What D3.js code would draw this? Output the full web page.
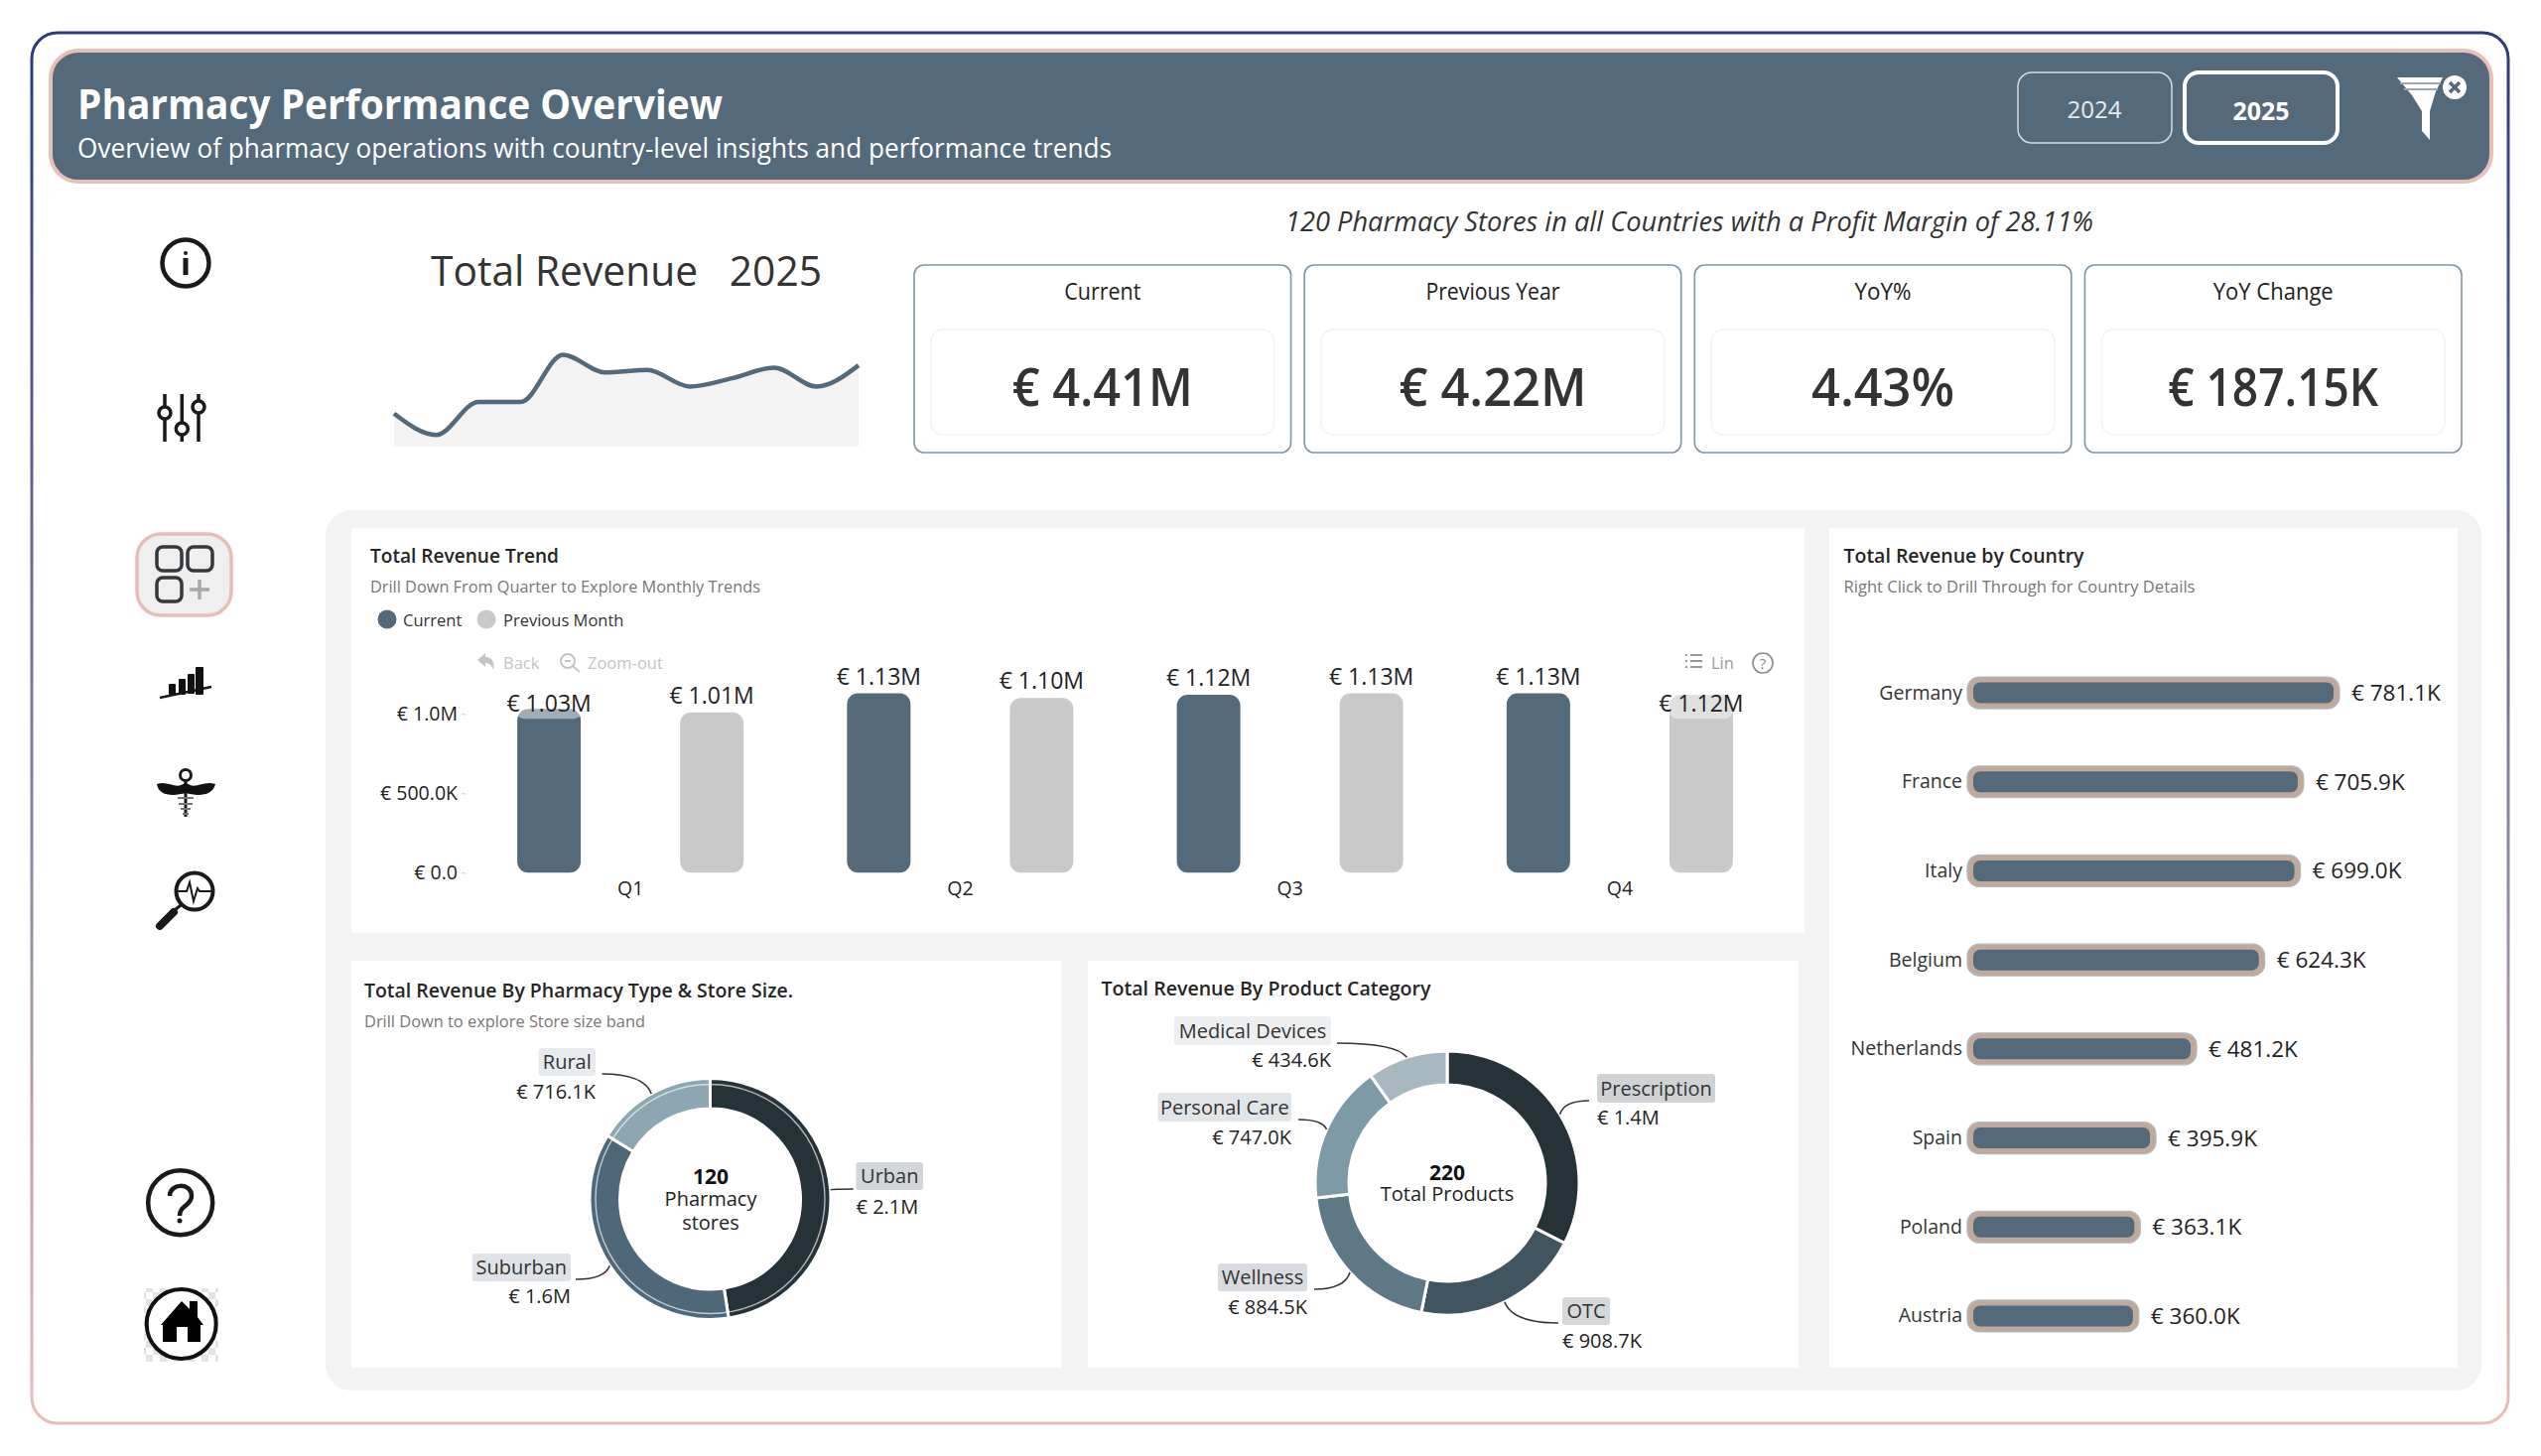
<!DOCTYPE html>
<html><head><meta charset="utf-8">
<script src="https://cdn.jsdelivr.net/npm/d3@7/dist/d3.min.js"></script>
<style>
html,body{margin:0;padding:0;background:#fff}
svg{display:block}
text{font-family:"Open Sans",sans-serif;white-space:pre}
</style></head><body>
<svg id="c" width="2560" height="1467" viewBox="0 0 2560 1467"></svg>
<script>
// ---------- data ----------
const years = ["2024","2025"];
const months = ["Jan","Feb","Mar","Apr","May","Jun","Jul","Aug","Sep","Oct","Nov","Dec"];
const monthlyRevenue = [346,328,356,356,396,381,383,369,376,385,369,387];
const kpiTitles = ["Current","Previous Year","YoY%","YoY Change"];
const kpiValues = ["€ 4.41M","€ 4.22M","4.43%","€ 187.15K"];
const quarters = ["Q1","Q2","Q3","Q4"];
const barSeries = ["Current","Previous Month"];
const currentRevenue = [1030000,1130000,1120000,1130000];
const previousRevenue = [1010000,1100000,1130000,1120000];
const barTicks = [0,500000,1000000];
const barTickLabels = ["€ 0.0","€ 500.0K","€ 1.0M"];
const countries = ["Germany","France","Italy","Belgium","Netherlands","Spain","Poland","Austria"];
const countryRevenue = [781.1,705.9,699.0,624.3,481.2,395.9,363.1,360.0];
const pharmacyTypes = ["Urban","Suburban","Rural"];
const pharmacyRevenue = [2100000,1600000,716100];
const productCategories = ["Prescription","OTC","Wellness","Personal Care","Medical Devices"];
const productRevenue = [1435000,908700,884500,747000,434600];

// ---------- helpers ----------
const DARK="#546A7B", GREY="#C9C9C9", INK="#333333";
const svg=d3.select("#c");
const defs=svg.append("defs");
const grad=defs.append("linearGradient").attr("id","edge").attr("gradientUnits","userSpaceOnUse")
  .attr("x1",0).attr("y1",32).attr("x2",0).attr("y2",1434);
grad.append("stop").attr("offset","0").attr("stop-color","#2B3A7C");
grad.append("stop").attr("offset","0.5").attr("stop-color","#7C7B9C");
grad.append("stop").attr("offset","1").attr("stop-color","#EBBDB8");
const chk=defs.append("pattern").attr("id","chk").attr("width",14).attr("height",14).attr("patternUnits","userSpaceOnUse");
chk.append("rect").attr("width",14).attr("height",14).attr("fill","#fff");
chk.append("rect").attr("width",7).attr("height",7).attr("fill","#e3e3e3");
chk.append("rect").attr("x",7).attr("y",7).attr("width",7).attr("height",7).attr("fill","#e3e3e3");

function T(p,x,y,s,size,o={}){
  const t=p.append("text").attr("x",x).attr("y",y).text(s)
    .attr("font-size",size).attr("fill",o.fill||INK)
    .attr("font-weight",o.w||400).attr("text-anchor",o.a||"start")
    .attr("font-style",o.i?"italic":"normal");
  if(o.len) t.attr("textLength",o.len).attr("lengthAdjust","spacingAndGlyphs");
  return t;
}
function R(p,x,y,w,h,r,fill,stroke,sw){
  return p.append("rect").attr("x",x).attr("y",y).attr("width",w).attr("height",h).attr("rx",r)
    .attr("fill",fill||"none").attr("stroke",stroke||"none").attr("stroke-width",sw||0);
}

// ---------- frame & header ----------
R(svg,32,33,2495,1401,26,"#fff","url(#edge)",3);
R(svg,51,51,2459,132,28,DARK,"#E9BFBA",4);
T(svg,78,120,"Pharmacy Performance Overview",42,{fill:"#fff",w:700,len:650});
T(svg,78,159,"Overview of pharmacy operations with country-level insights and performance trends",28,{fill:"#fff",len:1042});
const btn=svg.append("g");
btn.selectAll("rect").data(years).join("rect")
  .attr("x",(d,i)=>i?2201:2033).attr("y",73).attr("width",(d,i)=>i?154:155).attr("height",71).attr("rx",14)
  .attr("fill","none").attr("stroke",(d,i)=>i?"#fff":"#D5DBE0").attr("stroke-width",(d,i)=>i?4:1.5);
btn.selectAll("text").data(years).join("text")
  .attr("x",(d,i)=>i?2278:2110).attr("y",(d,i)=>i?121:119).attr("text-anchor","middle")
  .attr("font-size",(d,i)=>i?25:24).attr("fill",(d,i)=>i?"#fff":"#E6EAED").attr("font-weight",(d,i)=>i?700:400).text(d=>d);
svg.append("path").attr("d","M2415 78 H2461 L2454 92 L2448 112 L2448 141 L2440 132 L2440 112 L2430 96 Z").attr("fill","#fff");
svg.append("path").attr("d","M2418 84 H2459 M2422 90 H2456").attr("stroke","#9aa8b3").attr("stroke-width",2);
svg.append("circle").attr("cx",2473).attr("cy",88).attr("r",12).attr("fill","#fff");
svg.append("path").attr("d","M2468 83 L2478 93 M2478 83 L2468 93").attr("stroke",DARK).attr("stroke-width",3.5);

// ---------- sidebar icons ----------
R(svg,138,538,95,82,24,"#EFEFEF","#E8BDB8",3.5);
const ic=svg.append("g").attr("fill","none").attr("stroke","#1a1a1a");
ic.append("circle").attr("cx",187).attr("cy",265).attr("r",23.5).attr("stroke-width",4.5);
ic.append("path").attr("d","M187 260 V277").attr("stroke-width",5);
ic.append("circle").attr("cx",187).attr("cy",255).attr("r",2).attr("fill","#1a1a1a").attr("stroke","none");
ic.append("path").attr("d","M166 397V445 M183.3 397V445 M200 397V445").attr("stroke-width",3.5);
[[166,416],[183.3,432],[200,410]].forEach(k=>ic.append("circle").attr("cx",k[0]).attr("cy",k[1]).attr("r",6).attr("fill","#fff").attr("stroke-width",3.5));
[[158,551],[189,551],[158,582]].forEach(k=>R(ic,k[0],k[1],25,24,6,"none","#33393d",3.5));
ic.append("path").attr("d","M201 584V604 M191 594H211").attr("stroke","#a8a8a8").attr("stroke-width",3.5);
ic.append("path").attr("d","M161 703 L213 692").attr("stroke-width",2.5);
[[170,689,7,11],[180,684,7,16],[189,679,7,20],[197,672,8,28]].forEach(k=>R(svg,k[0],k[1],k[2],k[3],1,"#111"));
ic.append("circle").attr("cx",187).attr("cy",781).attr("r",5.5).attr("stroke-width",3);
svg.append("path").attr("d","M187 788 C178 797 170 786 158 790 C160 803 176 802 187 799 C198 802 214 803 217 790 C204 786 196 797 187 788Z").attr("fill","#111");
ic.append("path").attr("d","M187 787V823").attr("stroke-width",3);
ic.append("path").attr("d","M179 804H195 M180 810H194 M182 815H192 M184 820H190").attr("stroke","#777").attr("stroke-width",2);
ic.append("circle").attr("cx",196).attr("cy",898).attr("r",18.5).attr("stroke-width",4);
ic.append("path").attr("d","M178 898H188 L191 889 L195 908 L199 895 L201 898H214").attr("stroke-width",2);
ic.append("path").attr("d","M182 912 L176 917").attr("stroke-width",3);
ic.append("path").attr("d","M175 919 L161 933").attr("stroke-width",8).attr("stroke-linecap","round");
ic.append("circle").attr("cx",181.7).attr("cy",1211.7).attr("r",32.5).attr("stroke-width",4.5);
ic.append("path").attr("d","M171 1205 C171 1192 193 1191 193 1205 C193 1215 181 1214 181 1225").attr("stroke-width",4.5);
ic.append("circle").attr("cx",181).attr("cy",1230).attr("r",2.5).attr("fill","#1a1a1a").attr("stroke","none");
R(svg,145,1298,75,74,0,"url(#chk)");
svg.append("circle").attr("cx",182.7).attr("cy",1334).attr("r",35).attr("fill","#fff").attr("stroke","#111").attr("stroke-width",4);
svg.append("path").attr("d","M162 1335 L183 1311 L191 1319 V1311 L199 1311 V1327 L205 1335 H202 V1352 H189 V1337 H178 V1352 H164 V1335Z").attr("fill","#000");

// ---------- revenue sparkline ----------
T(svg,434,288,"Total Revenue   2025",42,{fill:"#333",len:394});
const sx=d3.scalePoint().domain(months).range([397,865]);
const sy=d3.scaleLinear().domain([318,400]).range([450,352.7]);
svg.append("path").datum(monthlyRevenue).attr("fill","#F3F3F3")
  .attr("d",d3.area().x((d,i)=>sx(months[i])).y0(sy(318)).y1(d=>sy(d)).curve(d3.curveMonotoneX));
svg.append("path").datum(monthlyRevenue).attr("fill","none").attr("stroke",DARK).attr("stroke-width",4.5)
  .attr("d",d3.line().x((d,i)=>sx(months[i])).y(d=>sy(d)).curve(d3.curveMonotoneX));

// ---------- KPI cards ----------
T(svg,1702,233,"120 Pharmacy Stores in all Countries with a Profit Margin of 28.11%",27.2,{i:true,a:"middle",fill:"#333",len:814});
const kpiTextWidths=[182,189,144,212], kpiTitleWidths=[77,135,57,121];
const kx=d3.scaleBand().domain(kpiTitles).range([921,2480]).paddingInner(0.0345);
const kg=svg.selectAll("g.kpi").data(kpiTitles).join("g").attr("class","kpi").attr("transform",d=>`translate(${kx(d)},267)`);
kg.append("rect").attr("width",kx.bandwidth()).attr("height",189).attr("rx",10).attr("fill","#fff").attr("stroke","#7E95A6").attr("stroke-width",1.6);
kg.append("rect").attr("x",17).attr("y",65).attr("width",kx.bandwidth()-34).attr("height",106).attr("rx",12).attr("fill","#fff").attr("stroke","#F3F3F3").attr("stroke-width",1.5);
kg.append("text").attr("x",kx.bandwidth()/2).attr("y",35).attr("text-anchor","middle").attr("font-size",23).attr("fill","#222")
  .attr("textLength",(d,i)=>kpiTitleWidths[i]).attr("lengthAdjust","spacingAndGlyphs").text(d=>d);
kg.append("text").attr("x",kx.bandwidth()/2).attr("y",142).attr("text-anchor","middle").attr("font-size",52).attr("font-weight",600).attr("fill",INK)
  .attr("textLength",(d,i)=>kpiTextWidths[i]).attr("lengthAdjust","spacingAndGlyphs").text((d,i)=>kpiValues[i]);

// ---------- panels ----------
R(svg,328,514,2172,887,26,"#F3F3F3");
R(svg,354,532,1464,408,0,"#fff");
R(svg,1843,532,633,846,0,"#fff");
R(svg,354,968,715.5,410,0,"#fff");
R(svg,1096,968,716,410,0,"#fff");
const TITLE=20, SUB=16.5;
T(svg,373,567,"Total Revenue Trend",TITLE,{w:600,fill:"#252525",len:190});
T(svg,373,597,"Drill Down From Quarter to Explore Monthly Trends",SUB,{fill:"#777",len:393});
T(svg,1857.5,567,"Total Revenue by Country",TITLE,{w:600,fill:"#252525",len:242});
T(svg,1857.5,597,"Right Click to Drill Through for Country Details",SUB,{fill:"#777",len:354});
T(svg,367,1005,"Total Revenue By Pharmacy Type & Store Size.",TITLE,{w:600,fill:"#252525",len:432});
T(svg,367,1035,"Drill Down to explore Store size band",SUB,{fill:"#777",len:283});
T(svg,1109.5,1003,"Total Revenue By Product Category",TITLE,{w:600,fill:"#252525",len:332});

// ---------- clustered columns ----------
const lg=svg.selectAll("g.lg").data(barSeries).join("g").attr("class","lg");
lg.append("circle").attr("cx",(d,i)=>i?490:390).attr("cy",624).attr("r",9.5).attr("fill",(d,i)=>i?GREY:DARK);
lg.append("text").attr("x",(d,i)=>i?507:406).attr("y",631).attr("font-size",16.5).attr("fill",INK).text(d=>d);
const tb="#C4C4C4";
T(svg,507,674,"Back",16.5,{fill:tb}); T(svg,592,674,"Zoom-out",16.5,{fill:tb}); T(svg,1724,674,"Lin",16.5,{fill:"#9a9a9a"});
svg.append("path").attr("d","M481 665 L489 658 V662 C496 662 499 668 497 675 C495 670 493 668 489 668 V672Z").attr("fill",tb);
svg.append("circle").attr("cx",572).attr("cy",666).attr("r",7).attr("fill","none").attr("stroke",tb).attr("stroke-width",2);
svg.append("path").attr("d","M577 671 L584 677 M569 666H575").attr("stroke",tb).attr("stroke-width",2);
svg.append("path").attr("d","M1698 660H1700 M1703 660H1715 M1698 666H1700 M1703 666H1715 M1698 672H1700 M1703 672H1715").attr("stroke","#999").attr("stroke-width",2);
svg.append("circle").attr("cx",1776).attr("cy",668).attr("r",10).attr("fill","none").attr("stroke","#8a8a8a").attr("stroke-width",1.6);
T(svg,1776,674,"?",15,{a:"middle",fill:"#8a8a8a"});

const y0=879.3, px=160/1e6;
const by=d3.scaleLinear().domain([0,1200000]).range([y0,y0-1200000*px]);
const bx=d3.scaleBand().domain(quarters).range([469,1798]);
const yAxis=svg.append("g").attr("transform","translate(469,0)")
  .call(d3.axisLeft(by).tickValues(barTicks).tickFormat((d,i)=>barTickLabels[i]).tickSize(4).tickPadding(4));
yAxis.select(".domain").remove();
yAxis.selectAll("line").attr("stroke","#ccc");
yAxis.selectAll("text").attr("font-size",19.5).attr("fill","#222").attr("font-family",'"Open Sans",sans-serif');
const xAxis=svg.append("g").attr("transform",`translate(0,${y0})`).call(d3.axisBottom(bx).tickSize(0).tickPadding(9));
xAxis.select(".domain").remove();
xAxis.selectAll("text").attr("font-size",19.5).attr("fill","#222").attr("font-family",'"Open Sans",sans-serif');

const bw=d3.scaleBand().domain(barSeries).range([-114,114]).paddingInner(0.61);
const labelsInBar=new Set(["Q1|Current","Q4|Previous Month"]);
const barRows=quarters.flatMap((q,i)=>[{q,s:barSeries[0],v:currentRevenue[i]},{q,s:barSeries[1],v:previousRevenue[i]}]);
const bars=svg.append("g");
bars.selectAll("rect").data(barRows).join("rect")
  .attr("x",d=>bx(d.q)+bx.bandwidth()/2+bw(d.s)).attr("y",d=>by(d.v))
  .attr("width",bw.bandwidth()).attr("height",d=>y0-by(d.v)).attr("rx",11)
  .attr("fill",d=>d.s===barSeries[0]?DARK:GREY);
barRows.forEach(d=>{
  const cx=bx(d.q)+bx.bandwidth()/2+bw(d.s)+bw.bandwidth()/2;
  const inside=labelsInBar.has(d.q+"|"+d.s);
  if(inside) R(bars,cx-bw.bandwidth()/2,by(d.v),bw.bandwidth(),by(1000000)+5-by(d.v),8,"rgba(255,255,255,0.45)");
  T(bars,cx,inside?by(1000000)-2:by(d.v)-9,"€ "+(d.v/1e6).toFixed(2)+"M",23,{a:"middle",fill:"#222"});
});

// ---------- horizontal bars ----------
const hx=d3.scaleLinear().domain([0,781.1]).range([1982,2357]);
const hy=d3.scaleBand().domain(countries).range([653.2,1370.8]);
const hg=svg.selectAll("g.hb").data(countries).join("g").attr("class","hb")
  .attr("transform",d=>`translate(0,${hy(d)+hy.bandwidth()/2})`);
const BH=32;
hg.append("rect").attr("x",hx(0)).attr("y",-BH/2).attr("width",(d,i)=>hx(countryRevenue[i])-hx(0)).attr("height",BH).attr("rx",12)
  .attr("fill","#BFA99C").attr("stroke","#B4BABE").attr("stroke-width",1.2);
hg.append("rect").attr("x",hx(0)+6).attr("y",-BH/2+5.5).attr("width",(d,i)=>hx(countryRevenue[i])-hx(0)-12).attr("height",BH-11).attr("rx",7).attr("fill",DARK);
hg.append("text").attr("x",1977).attr("y",6.5).attr("text-anchor","end").attr("font-size",19.5).attr("fill",INK).text(d=>d);
hg.append("text").attr("x",(d,i)=>hx(countryRevenue[i])+12).attr("y",8).attr("font-size",22.5).attr("fill","#222").text((d,i)=>"€ "+countryRevenue[i].toFixed(1)+"K");

// ---------- donuts ----------
const money=v=>v>=1e6?"€ "+(v/1e6).toFixed(1)+"M":"€ "+(v/1e3).toFixed(1)+"K";
function donut(cx,cy,ro,ri,names,values,colors,labelBoxes,ring){
  const g=svg.append("g").attr("transform",`translate(${cx},${cy})`);
  const pie=d3.pie().sort(null)(values);
  const arc=d3.arc().innerRadius(ri).outerRadius(ro);
  g.selectAll("path").data(pie).join("path").attr("d",arc)
    .attr("fill",(d,i)=>colors[i]).attr("stroke","#fff").attr("stroke-width",3);
  if(ring) g.append("circle").attr("r",ro-6).attr("fill","none").attr("stroke","#fff").attr("stroke-opacity",.65).attr("stroke-width",1.4);
  pie.forEach((p,i)=>{
    const a=(p.startAngle+p.endAngle)/2, ax=cx+ro*Math.sin(a), ay=cy-ro*Math.cos(a);
    const b=labelBoxes[i];
    const cxp=ax*0.85+b.lx*0.15;
    svg.append("path").attr("d",`M${b.lx} ${b.ly} Q${cxp} ${b.ly} ${ax} ${ay}`).attr("fill","none").attr("stroke","#333").attr("stroke-width",1.6);
    R(svg,b.x,b.y,b.w,b.h,3,b.fill);
    T(svg,b.x+b.w/2,b.y+b.h-7,names[i],20,{a:"middle",fill:"#333"});
    T(svg,b.right?b.x+b.w:b.x,b.vy,money(values[i]),20,{a:b.right?"end":"start",fill:"#222"});
  });
  return g;
}
const typeBoxes=[
 {x:862.5,y:1171,w:67.5,h:28,fill:"#D2D6DA",vy:1223,right:false,lx:859.6,ly:1198},
 {x:475.7,y:1263,w:99.3,h:28,fill:"#DFE2E6",vy:1313,right:true,lx:580,ly:1289},
 {x:542.6,y:1056,w:57.4,h:28,fill:"#E8EBEE",vy:1107,right:true,lx:606.6,ly:1082}];
const prodBoxes=[
 {x:1609,y:1082,w:119,h:29,fill:"#CFD3D6",vy:1133,right:false,lx:1601,ly:1109},
 {x:1574,y:1307,w:48,h:28,fill:"#D5D8DB",vy:1358,right:false,lx:1570,ly:1333},
 {x:1227,y:1273,w:90,h:28,fill:"#D8DBDF",vy:1324,right:true,lx:1324,ly:1299},
 {x:1166.6,y:1101,w:134.4,h:29,fill:"#E2E5E8",vy:1153,right:true,lx:1308,ly:1128},
 {x:1183,y:1024,w:158,h:29,fill:"#ECEEF0",vy:1075,right:true,lx:1347,ly:1051}];
donut(715.5,1208,121.5,91,pharmacyTypes,pharmacyRevenue,["#253238","#4F6879","#8CA6B2"],typeBoxes,true);
donut(1458,1192,133,99,productCategories,productRevenue,["#253238","#415560","#5E7886","#7E9AA7","#A7B8C1"],prodBoxes,false);
T(svg,716,1193,"120",21,{a:"middle",w:700,fill:"#111"});
T(svg,716,1215,"Pharmacy",20,{a:"middle",fill:"#222"});
T(svg,716,1239,"stores",20,{a:"middle",fill:"#222"});
T(svg,1458,1189,"220",21,{a:"middle",w:700,fill:"#111"});
T(svg,1458,1210,"Total Products",20,{a:"middle",fill:"#222"});
</script></body></html>
